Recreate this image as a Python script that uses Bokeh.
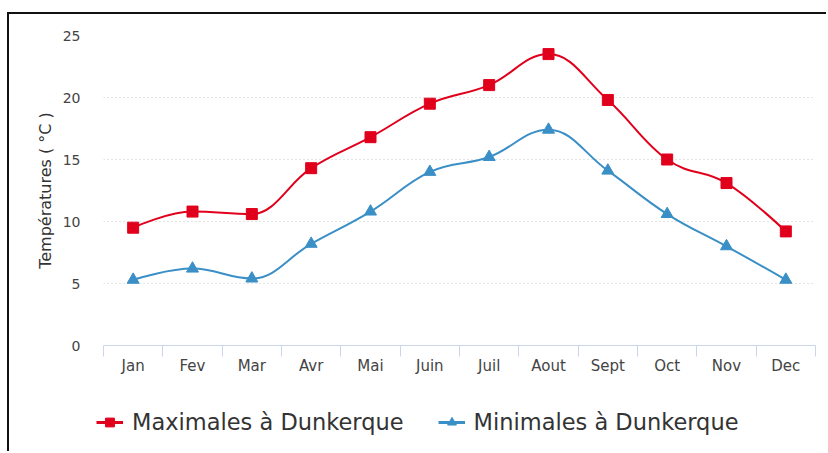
from bokeh.plotting import figure
from bokeh.models import FixedTicker, Range1d, Legend, LegendItem, ColumnDataSource
from bokeh.embed import file_html
from bokeh.resources import INLINE

months = ["Jan", "Fev", "Mar", "Avr", "Mai", "Juin", "Juil", "Aout", "Sept", "Oct", "Nov", "Dec"]
max_vals = [9.5, 10.8, 10.6, 14.3, 16.8, 19.5, 21.0, 23.5, 19.8, 15.0, 13.1, 9.2]
min_vals = [5.3, 6.2, 5.4, 8.2, 10.8, 14.0, 15.2, 17.4, 14.1, 10.6, 8.0, 5.3]
y_ticks = [0, 5, 10, 15, 20, 25]
series_names = ["Maximales à Dunkerque", "Minimales à Dunkerque"]

RED = "#e1001c"
BLUE = "#3a8fc6"
FONT = "DejaVu Sans"


def spline_segments(ys, smoothing=1.5):
    """Highcharts-style spline control points (computed from data)."""
    n = len(ys)
    xs = list(range(n))
    left = [None] * n
    right = [None] * n
    denom = smoothing + 1
    for i in range(1, n - 1):
        px, py = xs[i], ys[i]
        lx, ly = xs[i - 1], ys[i - 1]
        nx, ny = xs[i + 1], ys[i + 1]
        lcx = (smoothing * px + lx) / denom
        lcy = (smoothing * py + ly) / denom
        rcx = (smoothing * px + nx) / denom
        rcy = (smoothing * py + ny) / denom
        corr = 0
        if rcx != lcx:
            corr = (rcy - lcy) * (rcx - px) / (rcx - lcx) + py - rcy
        lcy += corr
        rcy += corr
        if lcy > ly and lcy > py:
            lcy = max(ly, py)
            rcy = 2 * py - lcy
        elif lcy < ly and lcy < py:
            lcy = min(ly, py)
            rcy = 2 * py - lcy
        if rcy > ny and rcy > py:
            rcy = max(ny, py)
            lcy = 2 * py - rcy
        elif rcy < ny and rcy < py:
            rcy = min(ny, py)
            lcy = 2 * py - rcy
        left[i] = (lcx, lcy)
        right[i] = (rcx, rcy)
    d = dict(x0=[], y0=[], x1=[], y1=[], cx0=[], cy0=[], cx1=[], cy1=[])
    for i in range(1, n):
        c0 = right[i - 1] if right[i - 1] else (xs[i - 1], ys[i - 1])
        c1 = left[i] if left[i] else (xs[i], ys[i])
        d["x0"].append(xs[i - 1]); d["y0"].append(ys[i - 1])
        d["x1"].append(xs[i]); d["y1"].append(ys[i])
        d["cx0"].append(c0[0]); d["cy0"].append(c0[1])
        d["cx1"].append(c1[0]); d["cy1"].append(c1[1])
    return d


p = figure(width=819, height=371, output_backend="svg", toolbar_location=None,
           x_range=Range1d(-0.5, len(months) - 0.5), y_range=Range1d(0, 25),
           min_border_left=94, min_border_right=13, min_border_top=21, min_border_bottom=40)
p.styles = {"border-top": "2px solid #111111", "border-left": "2px solid #111111",
            "margin-top": "12px", "margin-left": "7px"}
p.outline_line_color = None
p.background_fill_color = "white"
p.border_fill_color = "white"

# axes
p.xaxis.ticker = FixedTicker(ticks=list(range(len(months))),
                             minor_ticks=[i - 0.5 for i in range(len(months) + 1)])
p.xaxis.major_label_overrides = {i: m for i, m in enumerate(months)}
p.xaxis.major_tick_line_color = None
p.xaxis.minor_tick_line_color = "#ccd6eb"
p.xaxis.minor_tick_out = 11
p.xaxis.minor_tick_in = 0
p.xaxis.axis_line_color = "#ccd6eb"
p.xaxis.axis_line_width = 1
p.xaxis.major_label_standoff = 0
p.xaxis.major_label_text_font = FONT
p.xaxis.major_label_text_font_size = "15px"
p.xaxis.major_label_text_color = "#444444"

p.yaxis.ticker = FixedTicker(ticks=y_ticks)
p.yaxis.axis_line_color = None
p.yaxis.major_tick_line_color = None
p.yaxis.minor_tick_line_color = None
p.yaxis.major_label_standoff = 17
p.yaxis.major_label_text_font = FONT
p.yaxis.major_label_text_font_size = "14px"
p.yaxis.major_label_text_color = "#444444"
p.yaxis.axis_label = "Températures ( °C )"
p.yaxis.axis_label_text_font = FONT
p.yaxis.axis_label_text_font_size = "16px"
p.yaxis.axis_label_text_font_style = "normal"
p.yaxis.axis_label_text_color = "#333333"
p.yaxis.axis_label_standoff = 5

p.xgrid.grid_line_color = None
p.ygrid.grid_line_color = "#c8c8c8"
p.ygrid.grid_line_dash = "1 3"
p.ygrid.grid_line_width = 1

# legend figure (its y range lies below every value, so its renderers stay hidden
# and only their look is used by the legend)
p2 = figure(width=819, height=68, output_backend="svg", toolbar_location=None,
            x_range=Range1d(0, 1), y_range=Range1d(0, 1),
            x_axis_location=None, y_axis_location=None,
            min_border=0, min_border_left=0, min_border_right=0,
            min_border_top=0, min_border_bottom=0)
p2.styles = {"border-left": "2px solid #111111", "margin-left": "7px"}
p2.outline_line_color = None
p2.xgrid.visible = False
p2.ygrid.visible = False
p2.border_fill_color = "white"

idx = list(range(len(months)))
items = []
for vals, color, marker, name in [(max_vals, RED, "square", series_names[0]),
                                  (min_vals, BLUE, "triangle", series_names[1])]:
    seg = ColumnDataSource(spline_segments(vals))
    p.bezier(x0="x0", y0="y0", x1="x1", y1="y1", cx0="cx0", cy0="cy0",
             cx1="cx1", cy1="cy1", source=seg, line_color=color, line_width=2)
    size = 11 if marker == "square" else 12
    p.scatter(idx, vals, marker=marker, size=size, fill_color=color, line_color=color)
    lr = p2.line(idx, vals, line_color=color, line_width=3)
    mr = p2.scatter(idx, vals, marker=marker, size=size, fill_color=color, line_color=color)
    items.append(LegendItem(label=name, renderers=[lr, mr]))

legend = Legend(items=items, orientation="horizontal", location=(87, 16),
                label_text_font=FONT, label_text_font_size="22.5px",
                label_text_color="#333333", glyph_width=27, glyph_height=22,
                spacing=34, label_standoff=9, border_line_color=None,
                background_fill_alpha=0, padding=0, margin=0)
p2.add_layout(legend, "center")

open("out.html", "w").write(file_html([p, p2], INLINE))
